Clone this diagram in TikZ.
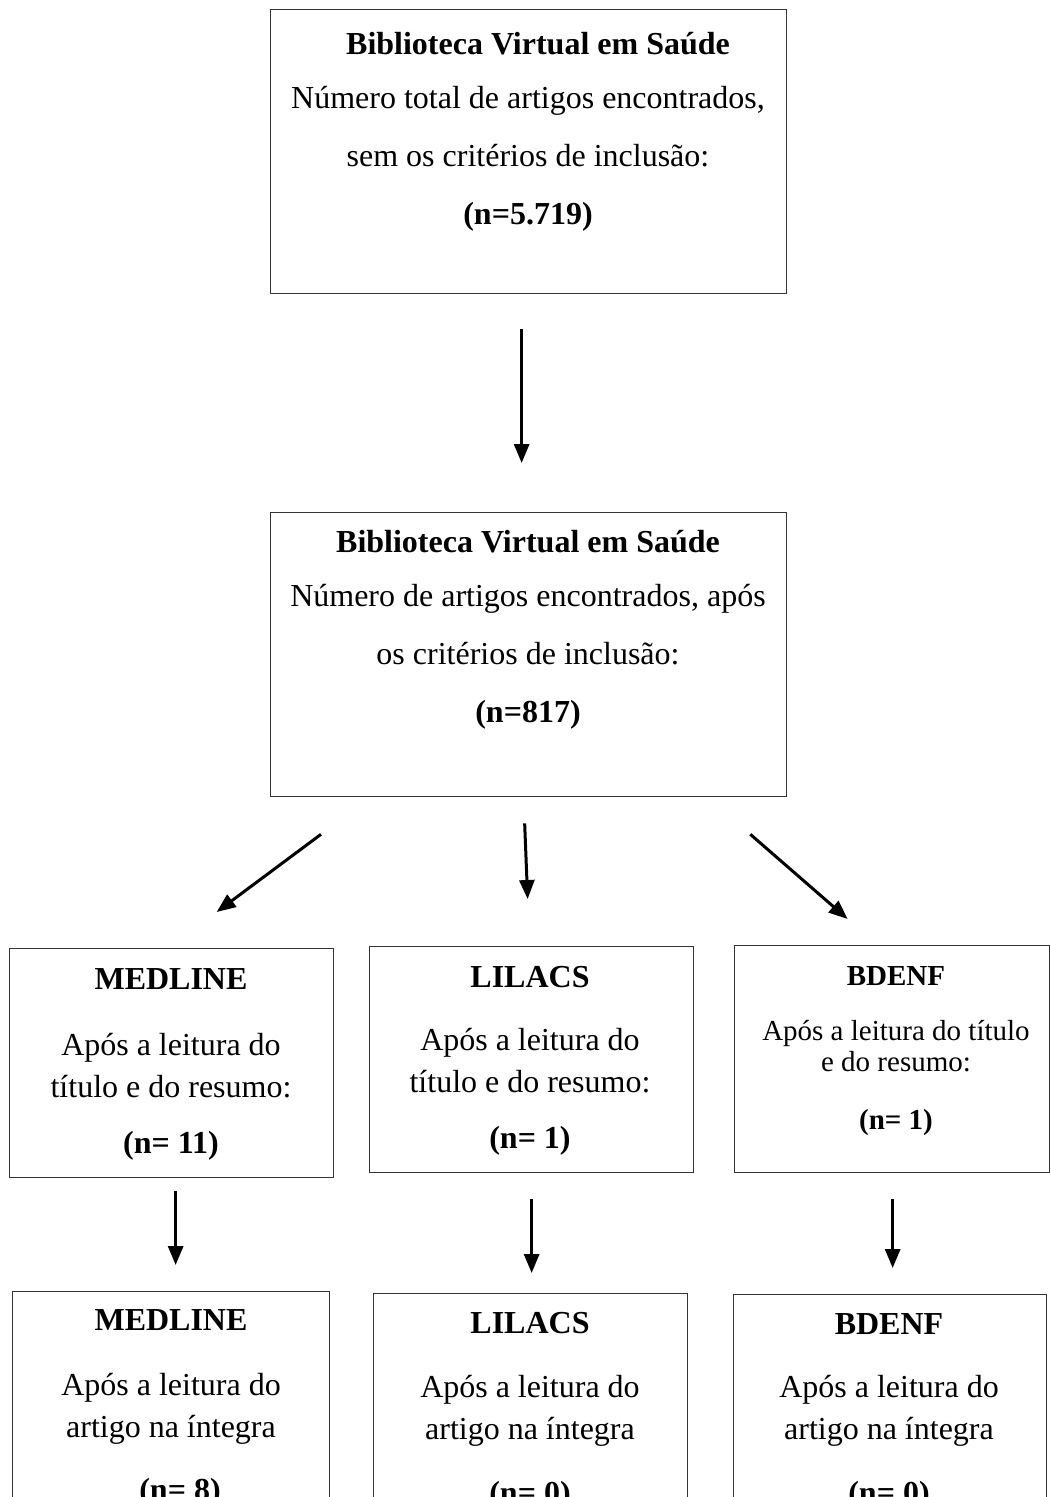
\documentclass[tikz,border=0pt]{standalone}
\usepackage{fontspec}
\setmainfont{Liberation Serif}
\usetikzlibrary{arrows.meta,positioning}

\begin{document}
\begin{tikzpicture}[x=1pt, y=-1pt,
        caixa/.style={draw=black!80, line width=1.3pt, inner sep=0pt, anchor=north west},
        texto/.style={anchor=base, align=center, inner sep=0pt, font=\fontsize{32}{58}\selectfont},
        textob/.style={texto, font=\fontsize{32}{42}\selectfont},
        textoc/.style={texto, font=\fontsize{29}{31}\selectfont},
        seta/.style={line width=3pt, -{Triangle[length=19pt, width=15pt]}}]
        \useasboundingbox (0, 0) rectangle (1051, 1497);
        \clip (0, 0) rectangle (1051, 1497);
        % caixas
        \node[caixa, minimum width=516, minimum height=284] (bvs1) at (270, 9) {};
        \node[caixa, minimum width=516, minimum height=284] (bvs2) at (270, 512) {};
        \node[caixa, minimum width=324, minimum height=229] (med1) at (9, 948) {};
        \node[caixa, minimum width=324, minimum height=226] (lil1) at (369, 946) {};
        \node[caixa, minimum width=315, minimum height=227] (bde1) at (734, 945) {};
        \node[caixa, minimum width=317, minimum height=320] (med2) at (12, 1291) {};
        \node[caixa, minimum width=314, minimum height=320] (lil2) at (373, 1293) {};
        \node[caixa, minimum width=313, minimum height=320] (bde2) at (733, 1294) {};
        % textos (ancorados na linha de base da ultima linha)
        \node[texto] (tbvs1) at (528, 224) {\hspace*{20pt}\textbf{Biblioteca Virtual em Saúde}\\[-4pt]
                Número total de artigos encontrados,\\ sem os critérios de inclusão:\\ \textbf{(n=5.719)}};
        \node[texto] (tbvs2) at (528, 722) {\textbf{Biblioteca Virtual em Saúde}\\[-4pt]
                Número de artigos encontrados, após\\ os critérios de inclusão:\\ \textbf{(n=817)}};
        \node[textob] (tmed1) at (171, 1153) {\textbf{MEDLINE}\\[24pt] Após a leitura do\\
                título e do resumo:\\[14pt] \textbf{(n= 11)}};
        \node[textob] (tlil1) at (530, 1148) {\textbf{LILACS}\\[21pt] Após a leitura do\\
                título e do resumo:\\[14pt] \textbf{(n= 1)}};
        \node[textoc] (tbde1) at (896, 1129) {\textbf{BDENF}\\[24pt] Após a leitura do título\\
                e do resumo:\\[27pt] \textbf{(n= 1)}};
        \node[textob] (tmed2) at (171, 1500) {\textbf{MEDLINE}\\[23pt] Após a leitura do\\
                artigo na íntegra\\[21pt] \hspace*{18pt}\textbf{(n= 8)}};
        \node[textob] (tlil2) at (530, 1503) {\textbf{LILACS}\\[22pt] Após a leitura do\\
                artigo na íntegra\\[22pt] \textbf{(n= 0)}};
        \node[textob] (tbde2) at (889, 1503) {\textbf{BDENF}\\[21pt] Após a leitura do\\
                artigo na íntegra\\[22pt] \textbf{(n= 0)}};
        % setas
        \draw[seta] ([shift={(-7, 35)}]bvs1.south) -- ([shift={(-7, -49)}]bvs2.north);
        \draw[seta] ([shift={(51, 37)}]bvs2.south west) -- ([shift={(45, -36)}]med1.north);
        \draw[seta] ([shift={(-4, 26)}]bvs2.south) -- ([shift={(-4, -47)}]lil1.north);
        \draw[seta] ([shift={(-37, 37)}]bvs2.south east) -- ([shift={(-44.5, -26)}]bde1.north);
        \draw[seta] ([shift={(4, 13)}]med1.south) -- ([shift={(4.5, -26)}]med2.north);
        \draw[seta] ([shift={(0, 26)}]lil1.south) -- ([shift={(1, -20)}]lil2.north);
        \draw[seta] ([shift={(0.5, 26)}]bde1.south) -- ([shift={(2.5, -26)}]bde2.north);
\end{tikzpicture}
\end{document}
